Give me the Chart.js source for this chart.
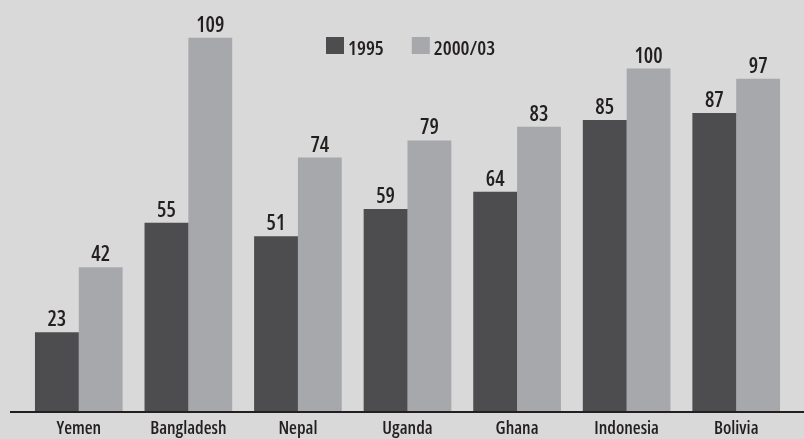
<!DOCTYPE html>
<html lang="en">
<head>
    <meta charset="UTF-8">
    <title>1995 vs 2000/03</title>
    <script src="https://cdn.jsdelivr.net/npm/chart.js"></script>
    <style>
        html, body {
            margin: 0;
            padding: 0;
            background: #d9d9d9;
        }
        #wrap {
            width: 804px;
            height: 439px;
        }
    </style>
</head>
<body>
    <div id="wrap"><canvas id="chart"></canvas></div>

    <script>
        // Data
        const countries = ["Yemen", "Bangladesh", "Nepal", "Uganda", "Ghana", "Indonesia", "Bolivia"];
        const seriesNames = ["1995", "2000/03"];
        const values1995 = [23, 55, 51, 59, 64, 85, 87];
        const values2000 = [42, 109, 74, 79, 83, 100, 97];

        const FAMILY = '"Open Sans", "DejaVu Sans Condensed", sans-serif';
        const WEIGHT = "condensed 600"; // font-stretch goes in with the weight
        const TEXT = "#231f20";

        // value labels above each bar
        const valueLabels = {
            id: "valueLabels",
            afterDatasetsDraw(chart) {
                const ctx = chart.ctx;
                ctx.save();
                ctx.font = WEIGHT + " 21px " + FAMILY;
                ctx.fillStyle = TEXT;
                ctx.textAlign = "center";
                ctx.textBaseline = "alphabetic";
                chart.data.datasets.forEach((ds, i) => {
                    chart.getDatasetMeta(i).data.forEach((bar, j) => {
                        ctx.fillText(ds.data[j], bar.x, bar.y - 6);
                    });
                });
                ctx.restore();
            }
        };

        // legend row near the top middle
        const topLegend = {
            id: "topLegend",
            afterDraw(chart) {
                const ctx = chart.ctx;
                ctx.save();
                ctx.font = WEIGHT + " 20px " + FAMILY;
                ctx.textBaseline = "alphabetic";
                let x = 326;
                const y = 37;
                chart.data.datasets.forEach(ds => {
                    ctx.fillStyle = ds.backgroundColor;
                    ctx.fillRect(x, y, 18, 17);
                    ctx.fillStyle = TEXT;
                    ctx.fillText(ds.label, x + 22, y + 18);
                    x += 22 + ctx.measureText(ds.label).width + 28;
                });
                ctx.restore();
            }
        };

        // baseline running nearly full width
        const baseLine = {
            id: "baseLine",
            afterDatasetsDraw(chart) {
                const ctx = chart.ctx;
                const y = chart.scales.y.getPixelForValue(0) + 1;
                ctx.save();
                ctx.strokeStyle = TEXT;
                ctx.lineWidth = 2;
                ctx.beginPath();
                ctx.moveTo(10, y);
                ctx.lineTo(chart.width, y);
                ctx.stroke();
                ctx.restore();
            }
        };

        new Chart(document.getElementById("chart"), {
            type: "bar",
            data: {
                labels: countries,
                datasets: [
                    { label: seriesNames[0], data: values1995, backgroundColor: "#4d4d4f" },
                    { label: seriesNames[1], data: values2000, backgroundColor: "#a7a8ab" }
                ]
            },
            options: {
                responsive: true,
                maintainAspectRatio: false,
                animation: false,
                layout: { padding: { left: 24, right: 13, top: 0, bottom: -8 } },
                datasets: {
                    bar: { barPercentage: 1, categoryPercentage: 0.8 }
                },
                scales: {
                    x: {
                        grid: { display: false, drawTicks: false },
                        border: { display: false },
                        ticks: {
                            padding: 9,
                            color: TEXT,
                            font: { family: FAMILY, size: 18, weight: WEIGHT, lineHeight: 1 },
                            maxRotation: 0,
                            autoSkip: false
                        }
                    },
                    y: {
                        display: false,
                        min: 0,
                        max: 120
                    }
                },
                plugins: {
                    legend: { display: false },
                    tooltip: { enabled: false }
                }
            },
            plugins: [valueLabels, topLegend, baseLine]
        });
    </script>
</body>
</html>
